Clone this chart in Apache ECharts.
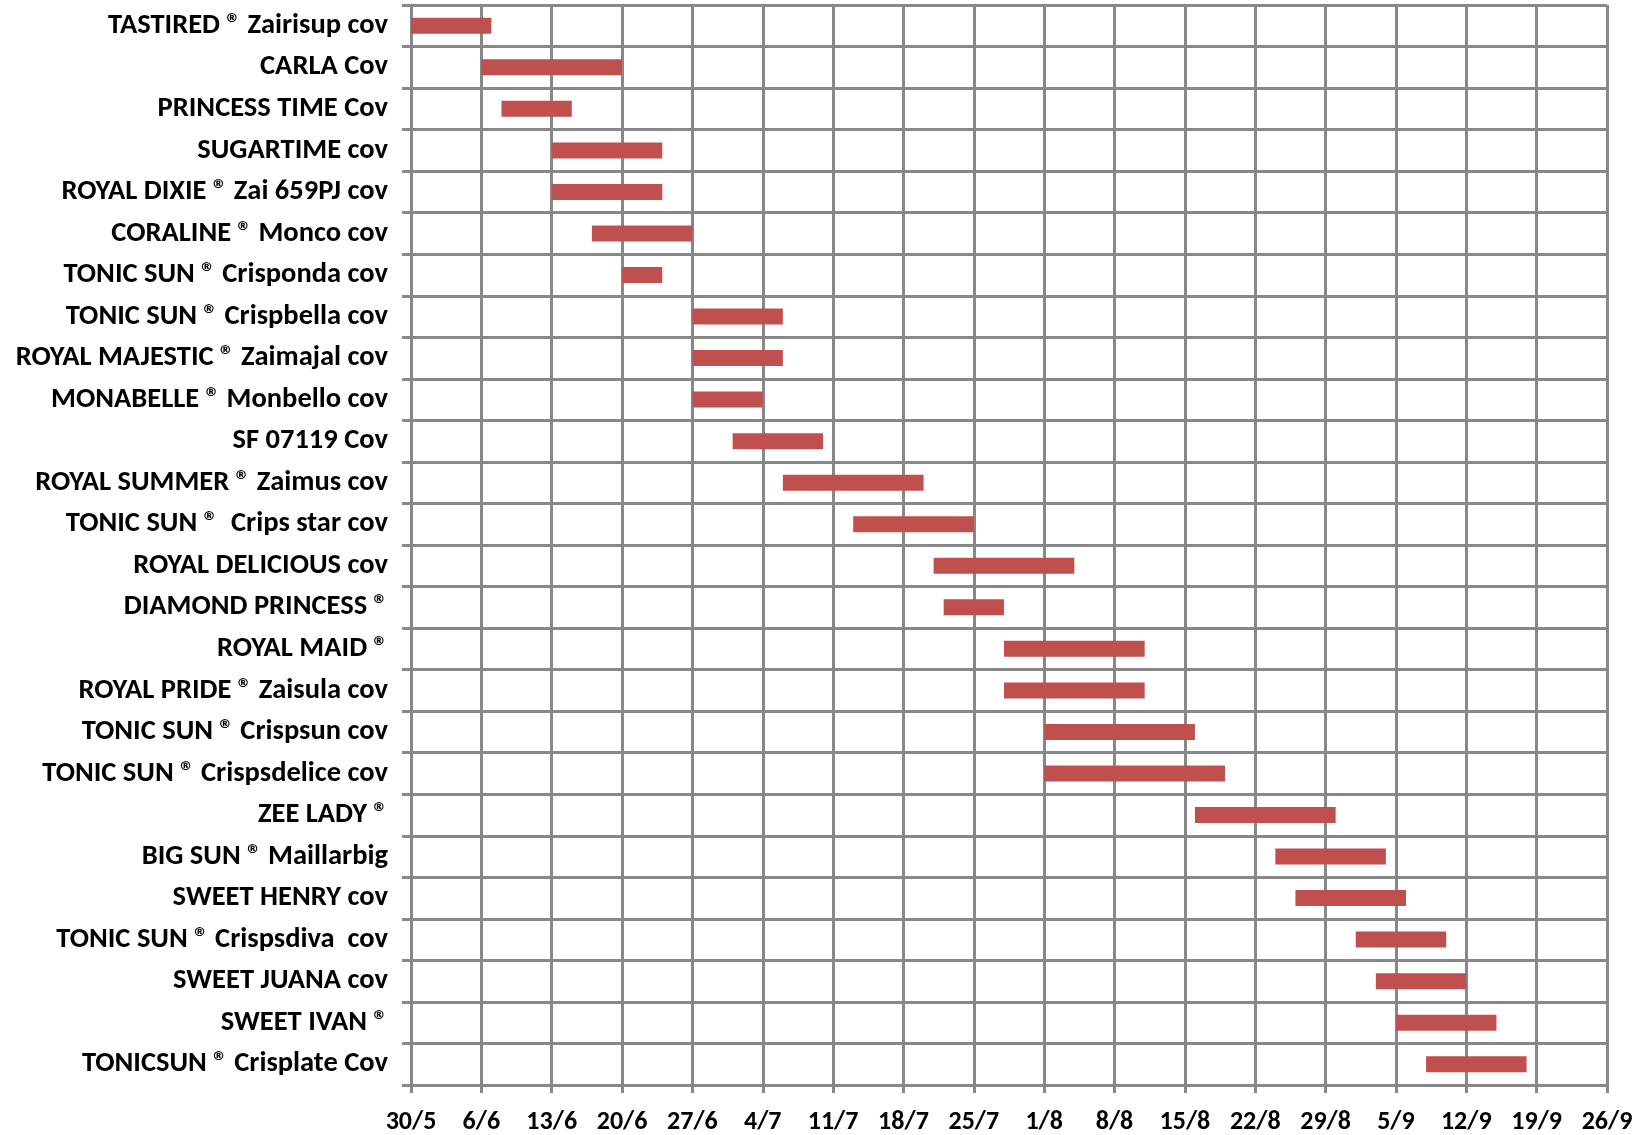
<!DOCTYPE html>
<html>
<head>
<meta charset="utf-8">
<script src="https://cdn.jsdelivr.net/npm/echarts@6/dist/echarts.min.js"></script>
<style>
html,body{margin:0;padding:0;background:#fff;}
#chart{width:1641px;height:1135px;}
</style>
</head>
<body>
<div id="chart"></div>
<script>
// Varieties (top to bottom)
const categories = [
  'TASTIRED ® Zairisup cov',
  'CARLA Cov',
  'PRINCESS TIME Cov',
  'SUGARTIME cov',
  'ROYAL DIXIE ® Zai 659PJ cov',
  'CORALINE ® Monco cov',
  'TONIC SUN ® Crisponda cov',
  'TONIC SUN ® Crispbella cov',
  'ROYAL MAJESTIC ® Zaimajal cov',
  'MONABELLE ® Monbello cov',
  'SF 07119 Cov',
  'ROYAL SUMMER ® Zaimus cov',
  'TONIC SUN ®  Crips star cov',
  'ROYAL DELICIOUS cov',
  'DIAMOND PRINCESS ®',
  'ROYAL MAID ®',
  'ROYAL PRIDE ® Zaisula cov',
  'TONIC SUN ® Crispsun cov',
  'TONIC SUN ® Crispsdelice cov',
  'ZEE LADY ®',
  'BIG SUN ® Maillarbig',
  'SWEET HENRY cov',
  'TONIC SUN ® Crispsdiva  cov',
  'SWEET JUANA cov',
  'SWEET IVAN ®',
  'TONICSUN ® Crisplate Cov'
];
// Harvest window start (d/m)
const startDates = [
  '30/5','6/6','8/6','13/6','13/6','17/6','20/6','27/6','27/6','27/6',
  '1/7','6/7','13/7','21/7','22/7','28/7','28/7','1/8','1/8','16/8',
  '24/8','26/8','1/9','3/9','5/9','8/9'
];
// Harvest window end (d/m)
const endDates = [
  '7/6','20/6','15/6','24/6','24/6','27/6','24/6','6/7','6/7','4/7',
  '10/7','20/7','25/7','4/8','28/7','11/8','11/8','16/8','19/8','30/8',
  '4/9','6/9','10/9','12/9','15/9','18/9'
];
// X axis tick labels (weekly from 30/5)
const tickLabels = ['30/5','6/6','13/6','20/6','27/6','4/7','11/7','18/7','25/7','1/8','8/8','15/8','22/8','29/8','5/9','12/9','19/9','26/9'];

const ORIGIN = Date.UTC(2011, 4, 30);
function dayOffset(s) {
  const p = s.split('/');
  return Math.round((Date.UTC(2011, +p[1] - 1, +p[0]) - ORIGIN) / 86400000);
}
const baseData = startDates.map(dayOffset);
const spanData = endDates.map((e, i) => dayOffset(e) - baseData[i]);

const FONT = "Carlito, 'Open Sans Condensed', 'Liberation Sans', sans-serif";
const GRID = '#888888';

const chart = echarts.init(document.getElementById('chart'), null, {renderer: 'canvas'});
chart.setOption({
  animation: false,
  backgroundColor: '#ffffff',
  grid: {left: 411, right: 34, top: 5, bottom: 50, containLabel: false, outerBoundsMode: 'none'},
  xAxis: {
    type: 'value',
    min: 0,
    max: (tickLabels.length - 1) * 7,
    interval: 7,
    axisLine: {show: true, lineStyle: {color: GRID, width: 3}},
    axisTick: {show: true, length: 8, lineStyle: {color: GRID, width: 3}},
    splitLine: {show: true, lineStyle: {color: GRID, width: 3}},
    axisLabel: {
      margin: 24,
      fontFamily: FONT,
      fontWeight: 'bold',
      fontSize: 26,
      color: '#000',
      formatter: v => tickLabels[Math.round(v / 7)] || ''
    }
  },
  yAxis: {
    type: 'category',
    inverse: true,
    data: categories,
    boundaryGap: true,
    axisLine: {show: true, lineStyle: {color: GRID, width: 3}},
    axisTick: {show: true, length: 9, lineStyle: {color: GRID, width: 3}},
    splitLine: {show: true, lineStyle: {color: GRID, width: 3}},
    axisLabel: {
      margin: 23,
      fontFamily: FONT,
      fontWeight: 'bold',
      fontSize: 28.5,
      color: '#000'
    }
  },
  series: [
    {
      type: 'bar',
      stack: 'g',
      data: baseData,
      barWidth: 16,
      itemStyle: {color: 'rgba(0,0,0,0)'},
      silent: true
    },
    {
      type: 'bar',
      stack: 'g',
      data: spanData,
      barWidth: 16,
      itemStyle: {color: '#C0504D'}
    }
  ]
});
</script>
</body>
</html>
